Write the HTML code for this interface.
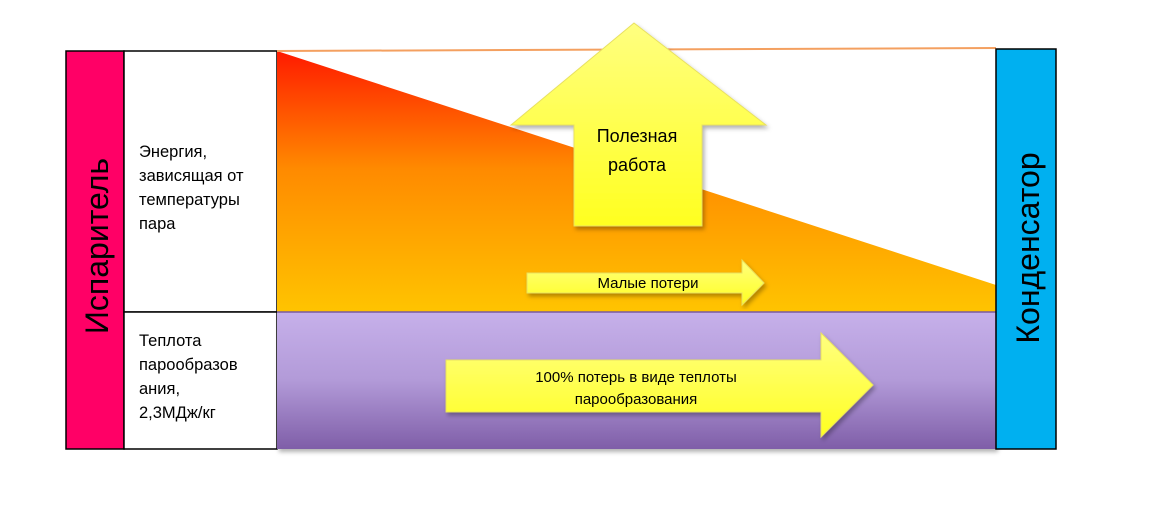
<!DOCTYPE html>
<html><head><meta charset="utf-8"><style>
body{margin:0;width:1150px;height:508px;background:#fff;overflow:hidden;font-family:"Liberation Sans","DejaVu Sans",sans-serif;}
</style></head><body>
<svg width="1150" height="508" viewBox="0 0 1150 508" xmlns="http://www.w3.org/2000/svg" style="position:absolute;left:0;top:0">
<defs>
<linearGradient id="og" x1="0" y1="0" x2="0" y2="1"><stop offset="0" stop-color="#ff1a00"/><stop offset="0.45" stop-color="#ff8a00"/><stop offset="1" stop-color="#ffc400"/></linearGradient>
<linearGradient id="pg" x1="0" y1="0" x2="0" y2="1"><stop offset="0" stop-color="#c6b0ea"/><stop offset="0.5" stop-color="#b29ad8"/><stop offset="1" stop-color="#7f5ea8"/></linearGradient>
<linearGradient id="yg" x1="0" y1="0" x2="0" y2="1"><stop offset="0" stop-color="#ffff80"/><stop offset="1" stop-color="#ffff20"/></linearGradient>
<filter id="sh"><feDropShadow dx="2" dy="3" stdDeviation="2" flood-opacity="0.3"/></filter>
</defs>
<rect x="66" y="51" width="58" height="398" fill="#ff0066" stroke="#000" stroke-width="1.5"/>
<rect x="124" y="51" width="153" height="261" fill="#fff" stroke="#000" stroke-width="1.5"/>
<rect x="124" y="312" width="153" height="137" fill="#fff" stroke="#000" stroke-width="1.5"/>
<polygon points="277,51 996,285 996,312 277,312" fill="url(#og)"/>
<line x1="277" y1="51" x2="996" y2="48" stroke="#f4a060" stroke-width="2"/>
<rect x="277" y="312" width="719" height="137" fill="url(#pg)" filter="url(#sh)"/>
<line x1="277" y1="312" x2="996" y2="312" stroke="#7a5aa0" stroke-width="1.5"/>
<rect x="996" y="49" width="60" height="400" fill="#00b0f0" stroke="#000" stroke-width="1.5"/>
<polygon points="634,23 766,125 702,125 702,226 574,226 574,125 511,125" fill="url(#yg)" stroke="#e8e060" stroke-width="1" filter="url(#sh)"/>
<polygon points="527,273 742,273 742,260 764,283 742,305 742,293 527,293" fill="url(#yg)" stroke="#e8e060" stroke-width="1" filter="url(#sh)"/>
<polygon points="446,360 821,360 821,333 873,385 821,437 821,412 446,412" fill="url(#yg)" stroke="#e8e060" stroke-width="1" filter="url(#sh)"/>
<g font-family="Liberation Sans, DejaVu Sans, sans-serif" fill="#000">
<text transform="translate(108,246) rotate(-90)" text-anchor="middle" font-size="32">Испаритель</text>
<text transform="translate(1039,248) rotate(-90)" text-anchor="middle" font-size="32">Конденсатор</text>
<text font-size="16.5" x="139" y="157">Энергия,</text>
<text font-size="16.5" x="139" y="181">зависящая от</text>
<text font-size="16.5" x="139" y="205">температуры</text>
<text font-size="16.5" x="139" y="229">пара</text>
<text font-size="16.5" x="139" y="346">Теплота</text>
<text font-size="16.5" x="139" y="370">парообразов</text>
<text font-size="16.5" x="139" y="394">ания,</text>
<text font-size="16.5" x="139" y="418">2,3МДж/кг</text>
<text font-size="18" x="637" y="142" text-anchor="middle">Полезная</text>
<text font-size="18" x="637" y="171" text-anchor="middle">работа</text>
<text font-size="15" x="648" y="288" text-anchor="middle">Малые потери</text>
<text font-size="15" x="636" y="382" text-anchor="middle">100% потерь в виде теплоты</text>
<text font-size="15" x="636" y="404" text-anchor="middle">парообразования</text>
</g>
</svg>
</body></html>
